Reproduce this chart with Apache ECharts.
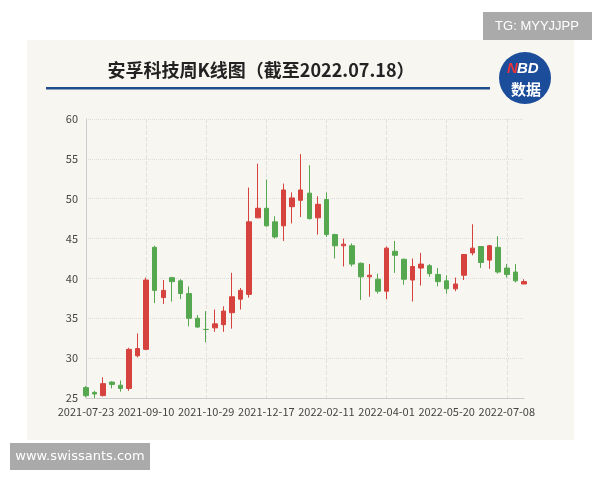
<!DOCTYPE html>
<html>
<head>
<meta charset="utf-8">
<script src="https://cdn.jsdelivr.net/npm/echarts@6/dist/echarts.min.js"></script>
<style>html,body{margin:0;padding:0;background:#fff;}#c{width:600px;height:480px;}</style>
</head>
<body>
<div id="c"></div>
<script>
var dates = ['2021-07-23','2021-07-30','2021-08-06','2021-08-13','2021-08-20','2021-08-27','2021-09-03','2021-09-10','2021-09-17','2021-09-24','2021-09-30','2021-10-08','2021-10-15','2021-10-22','2021-10-29','2021-11-05','2021-11-12','2021-11-19','2021-11-26','2021-12-03','2021-12-10','2021-12-17','2021-12-24','2021-12-31','2022-01-07','2022-01-14','2022-01-21','2022-01-28','2022-02-11','2022-02-18','2022-02-25','2022-03-04','2022-03-11','2022-03-18','2022-03-25','2022-04-01','2022-04-08','2022-04-15','2022-04-22','2022-04-29','2022-05-06','2022-05-13','2022-05-20','2022-05-27','2022-06-02','2022-06-10','2022-06-17','2022-06-24','2022-07-01','2022-07-08','2022-07-15','2022-07-18'];
var openV  = [26.3,25.7,25.3,27.0,26.6,26.2,30.3,31.1,43.9,37.6,40.1,39.7,38.1,35.0,33.6,33.8,34.2,35.7,37.4,38.0,47.6,48.8,47.1,46.6,49.0,49.8,50.7,47.6,49.9,45.5,44.1,44.1,41.9,40.2,39.9,38.4,43.4,42.4,39.8,41.3,41.6,40.5,39.7,38.7,40.4,43.2,44.0,42.3,43.9,41.3,40.8,39.3];
var closeV = [25.3,25.5,26.8,26.7,26.2,31.1,31.2,39.8,38.5,38.5,39.6,38.1,35.0,33.9,33.6,34.3,35.9,37.7,38.5,47.1,48.8,46.6,45.2,51.1,50.1,51.1,47.5,49.3,45.5,44.1,44.3,41.8,40.2,40.4,38.4,43.8,42.9,39.9,41.5,41.8,40.6,39.6,38.7,39.3,43.0,43.8,42.0,44.1,40.8,40.5,39.7,39.6];
var lowV   = [25.1,25.0,25.2,26.2,25.8,25.9,30.1,31.0,36.9,36.8,37.1,37.4,34.0,33.8,32.0,33.3,33.3,33.7,36.1,37.6,47.6,46.5,45.0,44.7,46.9,47.7,47.4,45.5,45.2,42.5,41.5,41.5,37.3,37.7,38.1,37.4,40.7,39.2,37.1,39.1,40.2,39.0,38.1,38.4,39.8,42.9,41.3,41.2,40.6,40.1,39.5,39.3];
var highV  = [26.5,25.9,27.6,27.1,27.2,31.3,33.1,40.1,44.1,39.8,40.2,39.9,39.0,35.4,35.9,36.1,36.5,40.7,38.8,51.4,54.4,52.4,47.8,51.9,50.8,55.6,54.2,50.3,50.8,45.6,45.0,44.4,42.0,41.8,40.6,44.0,44.7,42.5,42.5,43.2,41.8,41.3,40.4,40.1,43.0,46.8,44.0,44.2,45.3,41.8,41.8,39.9];
var yTicks = [25,30,35,40,45,50,55,60];

var kData = dates.map(function(d,i){ return [openV[i], closeV[i], lowV[i], highV[i]]; });

var chart = echarts.init(document.getElementById('c'), null, {renderer:'canvas'});
var font = '"Noto Sans CJK SC","Noto Sans",sans-serif';
chart.setOption({
  backgroundColor: '#ffffff',
  animation: false,
  graphic: [
    {type:'rect', z:-10, shape:{x:27,y:40,width:547,height:400}, style:{fill:'#f8f6f1'}},
    {type:'rect', z:5, shape:{x:483,y:12,width:109,height:28}, style:{fill:'#aaaaaa'}},
    {type:'text', z:6, x:537, y:26, style:{text:'TG: MYYJJPP', fill:'#ffffff', font:'13px "Liberation Sans",Arial,sans-serif', textAlign:'center', textVerticalAlign:'middle'}},
    {type:'rect', z:5, shape:{x:10,y:443,width:140,height:27}, style:{fill:'#aaaaaa'}},
    {type:'text', z:6, x:80, y:457, style:{text:'www.swissants.com', fill:'#ffffff', font:'13px "DejaVu Sans",sans-serif', textAlign:'center', textVerticalAlign:'middle'}},
    {type:'text', z:6, x:261, y:70, style:{text:'安孚科技周K线图（截至2022.07.18）', fill:'#222222', font:'bold 18px "Noto Sans CJK SC",sans-serif', textAlign:'center', textVerticalAlign:'middle'}},
    {type:'rect', z:5, shape:{x:46,y:87,width:444,height:2.5}, style:{fill:'#1f4d8c'}},
    {type:'circle', z:5, shape:{cx:525,cy:78,r:26}, style:{fill:'#1c4d9b'}},
    {type:'text', z:6, x:507, y:69, style:{text:'N', fill:'#e8333a', font:'bold italic 15px "Liberation Sans",Arial,sans-serif', textVerticalAlign:'middle'}},
    {type:'text', z:6, x:517, y:69, style:{text:'BD', fill:'#ffffff', font:'bold italic 15px "Liberation Sans",Arial,sans-serif', textVerticalAlign:'middle'}},
    {type:'text', z:6, x:526, y:89, style:{text:'数据', fill:'#ffffff', font:'bold 15px "Noto Sans CJK SC",sans-serif', textAlign:'center', textVerticalAlign:'middle'}}
  ],
  grid: {left:86, right:76, top:119, bottom:82},
  xAxis: {
    type:'category', data:dates, boundaryGap:false,
    axisLine:{show:true, lineStyle:{color:'#cccccc'}},
    axisTick:{show:false},
    axisLabel:{interval:6, color:'#444444', fontSize:11, fontFamily:font, margin:8},
    splitLine:{show:true, interval:6, lineStyle:{color:'#e2e0dc', type:'dashed'}}
  },
  yAxis: {
    type:'value', min:yTicks[0], max:yTicks[yTicks.length-1], interval:5, scale:true,
    axisLine:{show:true, lineStyle:{color:'#cccccc'}},
    axisTick:{show:false},
    axisLabel:{color:'#444444', fontSize:11, fontFamily:font, margin:8},
    splitLine:{show:true, lineStyle:{color:'#dddddd', type:'dotted'}}
  },
  series: [{
    type:'candlestick', data:kData, barWidth:5, clip:false,
    itemStyle:{color:'#d6423d', color0:'#55a84f', borderColor:'#d6423d', borderColor0:'#55a84f', borderWidth:1}
  }]
});
</script>
</body>
</html>
